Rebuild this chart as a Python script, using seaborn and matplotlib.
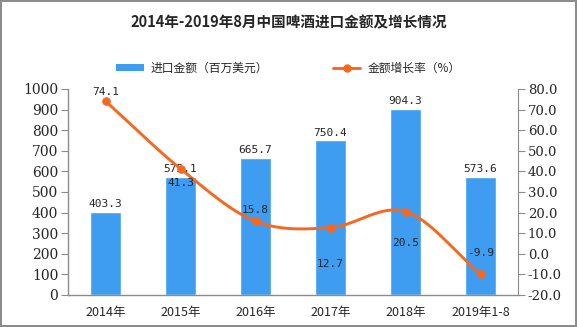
import numpy as np
import pandas as pd
import matplotlib
matplotlib.use("Agg")
import matplotlib.pyplot as plt
import seaborn as sns
from matplotlib.patches import Patch
from matplotlib.lines import Line2D

categories = ["2014年", "2015年", "2016年", "2017年", "2018年", "2019年1-8"]
import_value = [403.3, 575.1, 665.7, 750.4, 904.3, 573.6]
growth_rate = [74.1, 41.3, 15.8, 12.7, 20.5, -9.9]
left_ticks = list(range(0, 1001, 100))
right_ticks = list(range(-20, 81, 10))

title = "2014年-2019年8月中国啤酒进口金额及增长情况"
bar_label = "进口金额（百万美元）"
line_label = "金额增长率（%）"

BAR_C = "#3E9DF1"
LINE_C = "#F9671E"
AX_C = "#8C8C8C"

sns.set_style("white")
plt.rcParams["font.family"] = ["Noto Sans CJK SC", "DejaVu Sans"]

fig = plt.figure(figsize=(5.77, 3.27), dpi=100)
fig.patch.set_edgecolor(AX_C)
fig.patch.set_linewidth(1.5)
ax = fig.add_axes([68 / 577, 1 - 295 / 327, 450 / 577, 206 / 327])

df = pd.DataFrame({"cat": categories, "val": import_value, "rate": growth_rate})
sns.barplot(data=df, x="cat", y="val", color=BAR_C, width=0.41, saturation=1,
            ax=ax, zorder=2)
ax.set_xlim(-0.5, len(categories) - 0.5)
ax.set_ylim(0, 1000)
ax.set_yticks(left_ticks)
ax.set_yticklabels([str(t) for t in left_ticks], family="DejaVu Serif", fontsize=10)
ax.set_xlabel("")
ax.set_ylabel("")
ax.set_xticks(np.arange(len(categories)))
ax.set_xticklabels(categories, fontsize=9)
ax.tick_params(axis="x", length=0, pad=8)
ax.set_xticks(np.arange(len(categories) + 1) - 0.5, minor=True)
ax.tick_params(axis="x", which="minor", length=5, color=AX_C, direction="out")
ax.tick_params(axis="y", length=5, color=AX_C, direction="out", pad=2)
for s in ["top", "right"]:
    ax.spines[s].set_visible(False)
for s in ["left", "bottom"]:
    ax.spines[s].set_color(AX_C)
    ax.spines[s].set_linewidth(1)

for i, v in enumerate(import_value):
    ax.text(i, v + 12, f"{v:.1f}", ha="center", va="bottom",
            family="DejaVu Sans Mono", fontsize=8, zorder=5)

ax2 = ax.twinx()
ax2.set_ylim(-20, 80)
ax2.set_yticks(right_ticks)
ax2.set_yticklabels([f"{t:.1f}" for t in right_ticks], family="DejaVu Serif", fontsize=9.5)
ax2.tick_params(axis="y", length=5, color=AX_C, direction="out", pad=2)
for s in ["top", "left", "bottom"]:
    ax2.spines[s].set_visible(False)
ax2.spines["right"].set_color(AX_C)

# smoothed (Catmull-Rom) rendering of the line through the data points
xs = np.arange(len(growth_rate), dtype=float)
ys = np.array(growth_rate, dtype=float)
px = np.concatenate([[2 * xs[0] - xs[1]], xs, [2 * xs[-1] - xs[-2]]])
py = np.concatenate([[2 * ys[0] - ys[1]], ys, [2 * ys[-1] - ys[-2]]])
sx, sy = [], []
t = np.linspace(0, 1, 30)
for k in range(1, len(px) - 2):
    p0, p1, p2, p3 = py[k - 1], py[k], py[k + 1], py[k + 2]
    q0, q1, q2, q3 = px[k - 1], px[k], px[k + 1], px[k + 2]
    f = lambda a0, a1, a2, a3: 0.5 * ((2 * a1) + (-a0 + a2) * t +
                                      (2 * a0 - 5 * a1 + 4 * a2 - a3) * t ** 2 +
                                      (-a0 + 3 * a1 - 3 * a2 + a3) * t ** 3)
    sx.extend(f(q0, q1, q2, q3))
    sy.extend(f(p0, p1, p2, p3))
smooth = pd.DataFrame({"x": sx, "y": sy})
sns.lineplot(data=smooth, x="x", y="y", color=LINE_C, lw=2.1, ax=ax2,
             sort=False, estimator=None, zorder=3)
sns.scatterplot(x=xs, y=ys, color=LINE_C, s=32, edgecolor=LINE_C, ax=ax2, zorder=4)
ax2.set_xlabel("")
ax2.set_ylabel("")
ax2.set_xlim(-0.5, len(categories) - 0.5)

offsets = [2, -4.5, 3, -15, -13, 8]
for i, (v, o) in enumerate(zip(growth_rate, offsets)):
    ax2.text(i, v + o, f"{v:.1f}", ha="center", va="bottom" if o > 0 else "top",
             family="DejaVu Sans Mono", fontsize=8, zorder=5)

fig.text(0.5, 1 - 22 / 327, title, ha="center", va="center",
         fontsize=10.5, fontweight="bold")

handles = [Patch(facecolor=BAR_C, edgecolor="none"),
           Line2D([0], [0], color=LINE_C, lw=2.1, marker="o", markersize=5)]
fig.legend(handles, [bar_label, line_label], loc="center",
           bbox_to_anchor=(0.5, 1 - 68 / 327), ncol=2, frameon=False,
           fontsize=8.5, handlelength=2.3, handleheight=0.5,
           columnspacing=5.5, handletextpad=0.6)

fig.savefig("out.png", dpi=100)
